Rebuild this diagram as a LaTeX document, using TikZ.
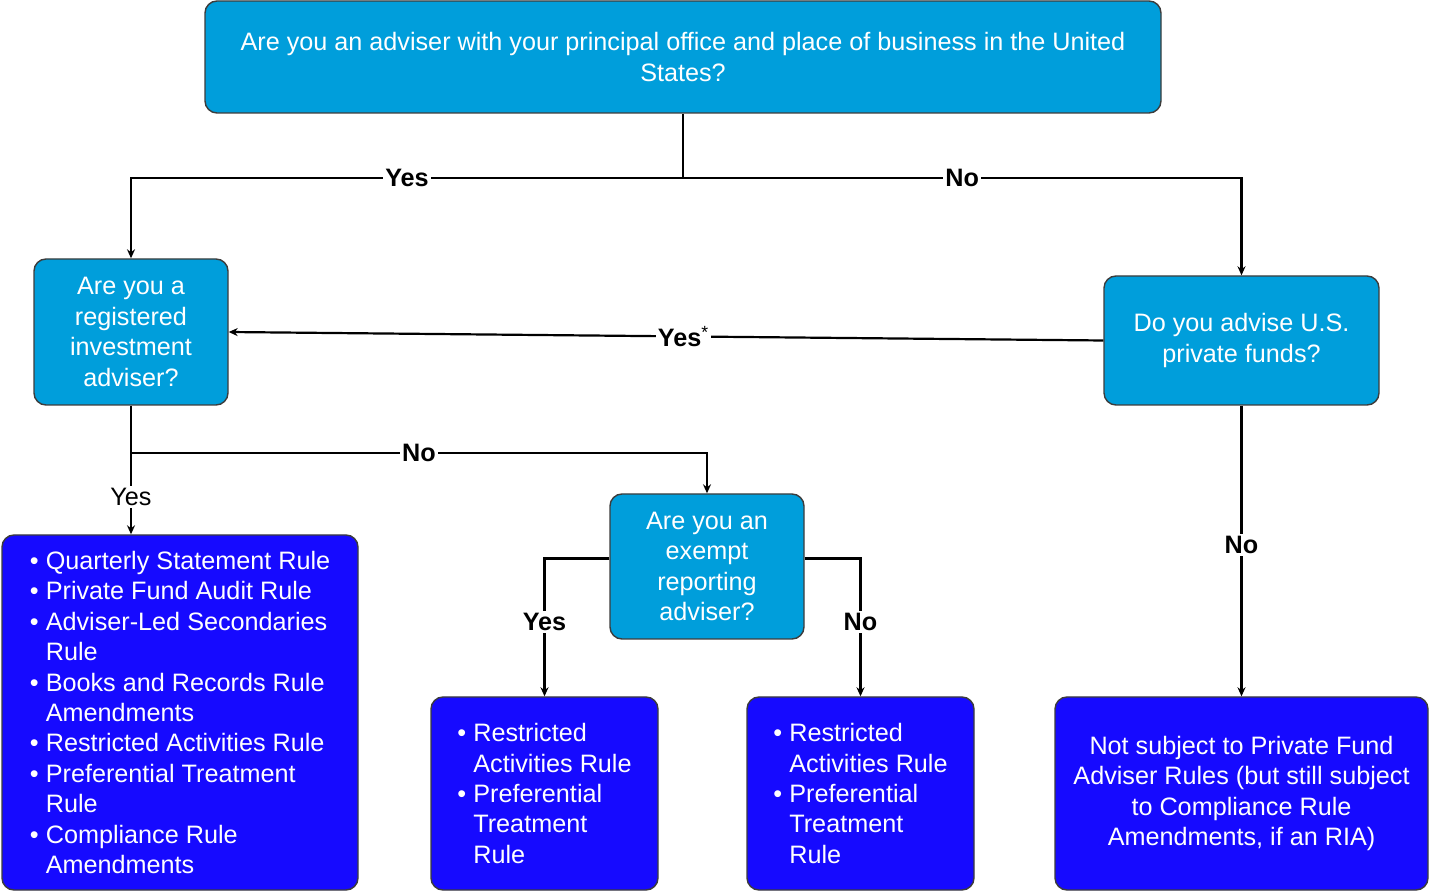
\documentclass[tikz,border=0pt]{standalone}
\usepackage{fontspec}
\setmainfont{Liberation Sans}
\usetikzlibrary{arrows.meta}

\definecolor{qblue}{RGB}{0,158,219}
\definecolor{rblue}{RGB}{22,10,255}
\definecolor{edgegray}{RGB}{60,60,60}

\newcommand{\bl}{\makebox[8pt][l]{\textbullet}}
\newcommand{\bc}{\hspace*{8pt}}

\begin{document}
\begin{tikzpicture}[x=0.5pt, y=-0.5pt,
  base/.style={draw=edgegray, line width=0.7pt, rounded corners=6pt, text=white,
    font=\fontsize{12.6}{15.2}\selectfont, inner sep=0pt},
  question/.style={base, fill=qblue, align=center},
  outcome/.style={base, fill=rblue, align=left},
  link/.style={line width=1.1pt},
  flow/.style={link, -{Stealth[length=4.5pt, width=4pt]}},
  lbl/.style={fill=white, inner sep=1pt, font=\bfseries\fontsize{12.6}{14}\selectfont},
  lblplain/.style={fill=white, inner sep=1pt, font=\fontsize{12.6}{14}\selectfont}]

  \useasboundingbox (0,0) rectangle (1430,892);

  % -- Questions --
  \node[question, minimum width=478pt, minimum height=56pt] (usoffice) at (683,57)
    {Are you an adviser with your principal office and place of business in the United\\States?};
  \node[question, minimum width=97pt, minimum height=73pt] (ria) at (131,332)
    {Are you a\\registered\\investment\\adviser?};
  \node[question, minimum width=137.5pt, minimum height=64.5pt] (privfunds) at (1241.5,340.5)
    {Do you advise U.S.\\private funds?};
  \node[question, minimum width=97pt, minimum height=72.5pt] (era) at (707,566.5)
    {Are you an\\exempt\\reporting\\adviser?};

  % -- Outcomes --
  \node[outcome, minimum width=178pt, minimum height=177.5pt] (allrules) at (180,712.5)
    {\bl Quarterly Statement Rule\\
     \bl Private Fund Audit Rule\\
     \bl Adviser-Led Secondaries\\
     \bc Rule\\
     \bl Books and Records Rule\\
     \bc Amendments\\
     \bl Restricted Activities Rule\\
     \bl Preferential Treatment\\
     \bc Rule\\
     \bl Compliance Rule\\
     \bc Amendments};
  \node[outcome, minimum width=113.5pt, minimum height=96.5pt] (erarules) at (544.5,793.5)
    {\bl Restricted\\
     \bc Activities Rule\\
     \bl Preferential\\
     \bc Treatment\\
     \bc Rule};
  \node[outcome, minimum width=113.5pt, minimum height=96.5pt] (otherrules) at (860.5,793.5)
    {\bl Restricted\\
     \bc Activities Rule\\
     \bl Preferential\\
     \bc Treatment\\
     \bc Rule};
  \node[outcome, align=center, minimum width=186.5pt, minimum height=96.5pt] (notsubject) at (1241.5,793.5)
    {Not subject to Private Fund\\Adviser Rules (but still subject\\to Compliance Rule\\Amendments, if an RIA)};

  % -- Branch points --
  \coordinate (topsplit) at (683,178);
  \coordinate (riasplit) at (131,453);

  % -- Connectors --
  \draw[link] (usoffice.south) -- (topsplit);
  \draw[flow] (topsplit) -| node[lbl, pos=0.25] {Yes} (ria.north);
  \draw[flow] (topsplit) -| node[lbl, pos=0.25] {No} (privfunds.north);
  \draw[flow] (privfunds.west) -- node[lbl, pos=0.48] {Yes\textsuperscript{\mdseries*}} (ria.east);
  \draw[flow] (ria.south) -- node[lblplain, pos=0.71] {Yes} (ria.south |- allrules.north);
  \draw[flow] (riasplit) -| node[lbl, pos=0.25] {No} (era.north);
  \draw[flow] ([yshift=4pt]era.west) -| node[lbl, pos=0.73] {Yes} (erarules.north);
  \draw[flow] ([yshift=4pt]era.east) -| node[lbl, pos=0.73] {No} (otherrules.north);
  \draw[flow] (privfunds.south) -- node[lbl, pos=0.48] {No} (notsubject.north);

\end{tikzpicture}
\end{document}
